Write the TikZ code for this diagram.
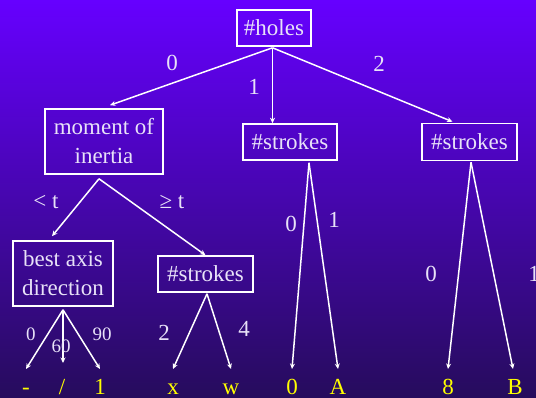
\documentclass[tikz,border=0pt]{standalone}
\usepackage{fontspec}
\setmainfont{Liberation Serif}
\usetikzlibrary{arrows.meta,calc}
\definecolor{txt}{RGB}{232,226,248}
\definecolor{bgtop}{RGB}{102,0,255}
\definecolor{bgmid}{RGB}{78,8,200}
\definecolor{bgbot}{RGB}{38,12,92}
\definecolor{leafc}{RGB}{255,255,0}
\begin{document}
\begin{tikzpicture}[x=1pt,y=-1pt,
  box/.style={draw=white, line width=1.6pt, text=txt, font=\fontsize{23}{29}\selectfont, align=center, inner sep=0pt},
  edge/.style={draw=white, line width=1.5pt, -{Stealth[length=5.5pt,width=5pt]}},
  lab/.style={text=txt, font=\fontsize{23}{27}\selectfont, inner sep=0pt},
  slab/.style={text=txt, font=\fontsize{19}{22}\selectfont, inner sep=0pt},
  leaf/.style={text=leafc, font=\fontsize{23}{27}\selectfont, text height=15pt, text depth=0pt, inner xsep=1pt, inner ysep=10pt, anchor=north}]
\fill[top color=bgtop, middle color=bgmid, bottom color=bgbot] (0,0) rectangle (536,398);
\useasboundingbox (0,0) rectangle (536,398);

% boxes
\node[box, minimum width=74pt, minimum height=36pt] (holes) at (274,28) {\#holes};
\node[box, minimum width=118pt, minimum height=65pt] (moment) at (104,141.5) {moment of\\inertia};
\node[box, minimum width=94pt, minimum height=36pt] (smid) at (290,142) {\#strokes};
\node[box, minimum width=95pt, minimum height=37pt] (sright) at (469.5,142) {\#strokes};
\node[box, minimum width=100pt, minimum height=65pt] (best) at (63,273.5) {best axis\\direction};
\node[box, minimum width=95pt, minimum height=36pt] (slow) at (205.5,274) {\#strokes};

% leaves
\node[leaf] (lm) at (26,369) {-};
\node[leaf] (ls) at (62,369) {/};
\node[leaf] (l1) at (100,369) {1};
\node[leaf] (lx) at (173,369) {x};
\node[leaf] (lw) at (231,369) {w};
\node[leaf] (l0) at (292,369) {0};
\node[leaf] (lA) at (338,369) {A};
\node[leaf] (l8) at (448,369) {8};
\node[leaf] (lB) at (515,369) {B};

% forks
\coordinate (fh) at ($(holes.south)+(-1.5,1)$);
\coordinate (fm) at ($(moment.south)+(-5,4)$);
\coordinate (fb) at ($(best.south)+(0,3)$);
\coordinate (fs) at ($(slow.south)+(1.5,1)$);
\coordinate (fmid) at ($(smid.south)+(19,2)$);
\coordinate (fr) at ($(sright.south)+(1.5,1)$);

% edges
\draw[edge] (fh) -- ($(moment.north)+(6,-3)$);
\draw[edge] (fh) -- (fh |- smid.north);
\draw[edge] (fh) -- ($(sright.north)+(-17,-1)$);
\draw[edge] (fm) -- ($(best.north)+(-11,-4)$);
\draw[edge] (fm) -- (slow.north);
\draw[edge] (fb) -- (lm.north);
\draw[edge] (fb) -- ($(ls.north)+(1,-6)$);
\draw[edge] (fb) -- (l1.north);
\draw[edge] (fs) -- (lx.north);
\draw[edge] (fs) -- (lw.north);
\draw[edge] (fmid) -- (l0.north);
\draw[edge] (fmid) -- (lA.north);
\draw[edge] (fr) -- (l8.north);
\draw[edge] (fr) -- ($(lB.north)+(-2,0)$);

% labels
\node[lab] at (172,63) {0};
\node[lab] at (254,87) {1};
\node[lab] at (379,64) {2};
\node[lab] at (46,202) {< t};
\node[lab] at (172,202) {≥ t};
\node[slab] at (31,334) {0};
\node[slab] at (61,346) {60};
\node[slab] at (102,334) {90};
\node[lab] at (164,333) {2};
\node[lab] at (244,329) {4};
\node[lab] at (291,224) {0};
\node[lab] at (334,220) {1};
\node[lab] at (431,274) {0};
\node[lab] at (534,274) {1};
\end{tikzpicture}
\end{document}
